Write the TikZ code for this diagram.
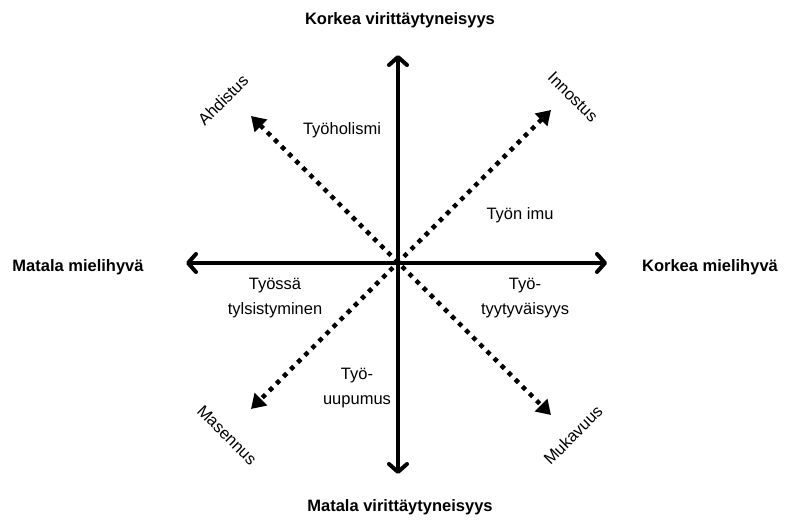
\documentclass[tikz,border=0pt]{standalone}
\usepackage{fontspec}
\setmainfont{Liberation Sans}
\usetikzlibrary{arrows.meta}
\begin{document}
\begin{tikzpicture}[x=1pt,y=-1pt,
  lbl/.style={font=\fontsize{16.5}{25}\selectfont, align=center, inner sep=0pt},
  axislbl/.style={font=\fontsize{16.5}{25}\selectfont\bfseries, inner sep=0pt},
  axis/.style={line width=4pt, {Straight Barb[length=8pt,width=18pt,line join=round,line cap=round]}-{Straight Barb[length=8pt,width=18pt,line join=round,line cap=round]}},
  diag/.style={line width=4.5pt, dash pattern=on 4.5pt off 5.5pt, {Triangle[length=14pt,width=17pt]}-{Triangle[length=14pt,width=17pt]}}]
\useasboundingbox (0,0) rectangle (787,529);
\coordinate (T) at (398,55);
\coordinate (B) at (398,474);
\coordinate (L) at (186,263);
\coordinate (R) at (607,263);
\coordinate (NW) at (251,116);
\coordinate (SE) at (551,415);
\coordinate (NE) at (551,110);
\coordinate (SW) at (251,409);
\draw[diag] (NW) -- (SE);
\draw[diag] (NE) -- (SW);
\draw[axis] (T) -- (B);
\draw[axis] (L) -- (R);
\node[axislbl] (kv) at (400,20) {Korkea virittäytyneisyys};
\node[axislbl] (mv) at (400,507) {Matala virittäytyneisyys};
\node[axislbl] (mm) at (78,267) {Matala mielihyvä};
\node[axislbl] (km) at (710,267) {Korkea mielihyvä};
\node[lbl] (th) at (342,130) {Työholismi};
\node[lbl] (ti) at (520,215) {Työn imu};
\node[lbl] (tt) at (275,298) {Työssä\\tylsistyminen};
\node[lbl] (ttv) at (525,298) {Työ-\\tyytyväisyys};
\node[lbl] (tu) at (357,388) {Työ-\\uupumus};
\node[lbl, rotate=45] (ah) at (223,100) {Ahdistus};
\node[lbl, rotate=-45] (in) at (573,97) {Innostus};
\node[lbl, rotate=-45] (ma) at (227,435) {Masennus};
\node[lbl, rotate=45] (mu) at (573,435) {Mukavuus};
\end{tikzpicture}
\end{document}
